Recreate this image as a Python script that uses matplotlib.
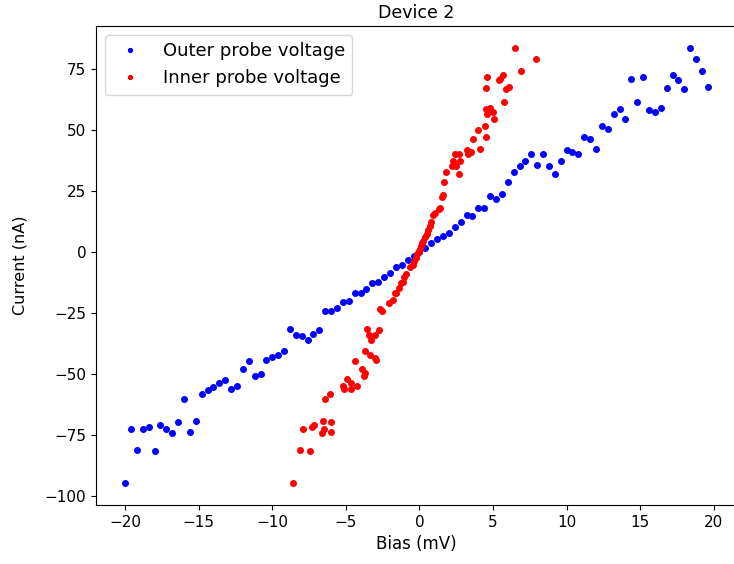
import matplotlib
matplotlib.use("Agg")
import matplotlib.pyplot as plt

# outer probe: bias (mV) and current (nA)
outer_bias = [-20.0, -19.6, -19.2, -18.8, -18.4, -18.0, -17.6, -17.2, -16.8, -16.4,
              -16.0, -15.6, -15.2, -14.8, -14.4, -14.0, -13.6, -13.2, -12.8, -12.4,
              -12.0, -11.6, -11.2, -10.8, -10.4, -10.0, -9.6, -9.2, -8.8, -8.4,
              -8.0, -7.6, -7.2, -6.8, -6.4, -6.0, -5.6, -5.2, -4.8, -4.4,
              -4.0, -3.6, -3.2, -2.8, -2.4, -2.0, -1.6, -1.2, -0.8, -0.4,
              0.0, 0.4, 0.8, 1.2, 1.6, 2.0, 2.4, 2.8, 3.2, 3.6,
              4.0, 4.4, 4.8, 5.2, 5.6, 6.0, 6.4, 6.8, 7.2, 7.6,
              8.0, 8.4, 8.8, 9.2, 9.6, 10.0, 10.4, 10.8, 11.2, 11.6,
              12.0, 12.4, 12.8, 13.2, 13.6, 14.0, 14.4, 14.8, 15.2, 15.6,
              16.0, 16.4, 16.8, 17.2, 17.6, 18.0, 18.4, 18.8, 19.2, 19.6]
outer_current = [-94.7, -72.5, -80.9, -72.3, -71.6, -81.4, -70.9, -72.7, -74.0, -69.7,
                 -60.2, -73.6, -69.4, -58.3, -56.4, -55.1, -53.8, -52.3, -56.1, -54.9,
                 -48.0, -44.7, -50.9, -49.9, -44.3, -43.2, -42.2, -40.7, -31.6, -34.0,
                 -34.3, -36.1, -33.7, -32.0, -24.2, -24.2, -22.8, -20.6, -19.9, -16.8,
                 -16.8, -15.2, -12.8, -12.2, -10.1, -8.6, -6.3, -5.2, -3.4, -1.6,
                 0.1, 1.6, 3.6, 5.2, 6.6, 7.9, 10.2, 12.4, 15.0, 14.8,
                 17.8, 17.8, 22.8, 21.5, 23.8, 28.6, 32.9, 35.2, 37.4, 39.9,
                 35.5, 40.2, 35.2, 32.0, 37.4, 41.8, 41.0, 40.0, 47.0, 46.4,
                 42.3, 51.6, 50.3, 56.4, 58.5, 54.6, 70.8, 61.5, 71.8, 58.1,
                 57.5, 59.0, 67.2, 72.3, 70.4, 66.7, 83.6, 79.2, 73.9, 67.5]

# inner probe
inner_bias = [-8.62, -8.12, -7.42, -7.92, -7.30, -7.17, -6.58, -6.00, -6.47, -6.65,
              -6.04, -6.42, -6.08, -5.20, -5.13, -4.89, -4.68, -4.62, -4.25, -4.39,
              -3.87, -3.77, -3.69, -3.73, -3.37, -3.01, -2.94, -3.53, -3.44, -3.28,
              -3.01, -2.78, -2.67, -2.55, -2.06, -1.81, -1.63, -1.58, -1.36, -1.22,
              -1.15, -1.02, -0.90, -0.63, -0.45, -0.34, -0.25, -0.14,
              -0.04, 0.05, 0.12, 0.20, 0.27, 0.39, 0.50, 0.59, 0.71, 0.79,
              0.95, 1.09, 1.32, 1.40, 1.54, 1.61,
              1.68, 1.79, 2.71, 2.20, 2.47, 2.31, 2.78, 2.42, 2.70, 3.22,
              3.37, 3.28, 3.51, 4.10, 3.67, 3.96, 4.53, 4.44, 5.05, 4.62,
              4.53, 4.82, 5.02, 5.75, 4.51, 4.58, 5.39, 5.48, 5.66, 5.89,
              6.07, 6.90, 6.48, 7.92]
inner_current = [-94.7, -80.9, -81.4, -72.4, -71.6, -71.0, -69.4, -69.7, -72.7, -74.0,
                 -73.6, -60.2, -58.2, -54.9, -56.3, -52.2, -53.8, -56.1, -54.9, -44.7,
                 -48.0, -50.9, -49.7, -40.7, -42.1, -43.3, -44.4, -31.4, -34.0, -36.1,
                 -34.0, -32.0, -23.5, -24.2, -21.0, -19.8, -16.8, -16.8, -14.9, -12.8,
                 -12.2, -10.1, -8.9, -6.0, -5.3, -3.8, -2.3, -0.8,
                 0.3, 1.2, 2.5, 3.6, 4.6, 6.0, 7.5, 9.0, 10.8, 12.4,
                 15.2, 15.9, 17.5, 17.9, 22.7, 23.5,
                 28.6, 32.9, 32.0, 35.2, 35.2, 37.3, 37.4, 39.9, 40.2, 41.8,
                 40.9, 39.9, 40.9, 42.3, 46.3, 50.1, 47.0, 51.6, 54.5, 56.6,
                 58.5, 58.9, 57.5, 61.5, 67.2, 71.8, 70.2, 71.0, 72.3, 66.7,
                 67.5, 73.9, 83.6, 79.2]

fig = plt.figure(figsize=(7.34, 5.64), dpi=100)
ax = fig.add_axes([96 / 734, 59 / 564, 641 / 734, 479 / 564])

ax.plot(outer_bias, outer_current, 'b.', markersize=8, label='Outer probe voltage')
ax.plot(inner_bias, inner_current, 'r.', markersize=8, label='Inner probe voltage')

ax.tick_params(labelsize=11)
ax.set_xlabel('Bias (mV)', fontsize=12)
ax.set_ylabel('Current (nA)', fontsize=11.5, labelpad=12)
ax.set_title('Device 2', fontsize=12.5)
ax.legend(loc='upper left', fontsize=13, markerscale=0.7)

fig.savefig('out.png', dpi=100)
